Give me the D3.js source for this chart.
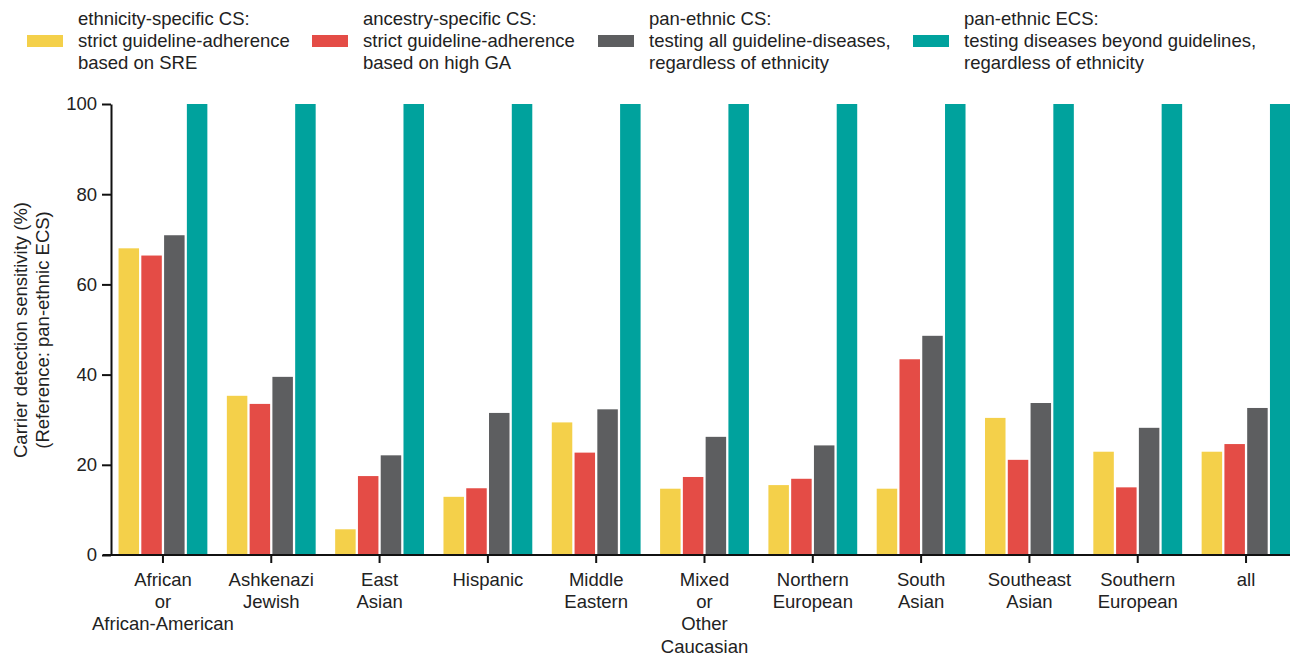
<!DOCTYPE html>
<html><head><meta charset="utf-8">
<script src="https://cdn.jsdelivr.net/npm/d3@7"></script>
<style>
html,body{margin:0;padding:0;background:#fff;}
svg{display:block;font-family:"Liberation Sans",Arial,Helvetica,sans-serif;}
</style></head>
<body>
<svg id="chart" width="1290" height="657"></svg>
<script>
const categories = [
  ["African","or","African-American"],
  ["Ashkenazi","Jewish"],
  ["East","Asian"],
  ["Hispanic"],
  ["Middle","Eastern"],
  ["Mixed","or","Other","Caucasian"],
  ["Northern","European"],
  ["South","Asian"],
  ["Southeast","Asian"],
  ["Southern","European"],
  ["all"]
];
const seriesNames = ["ethnicitySRE","ancestryGA","panethnicCS","panethnicECS"];
const seriesLabels = [
  ["ethnicity-specific CS:","strict guideline-adherence","based on SRE"],
  ["ancestry-specific CS:","strict guideline-adherence","based on high GA"],
  ["pan-ethnic CS:","testing all guideline-diseases,","regardless of ethnicity"],
  ["pan-ethnic ECS:","testing diseases beyond guidelines,","regardless of ethnicity"]
];
const colors = ["#F4D04A","#E44C46","#5D5E60","#00A29D"];
const ethnicitySRE = [68, 35.3, 5.7, 12.9, 29.4, 14.7, 15.5, 14.7, 30.4, 22.9, 22.9];
const ancestryGA   = [66.4, 33.5, 17.5, 14.8, 22.7, 17.3, 16.9, 43.4, 21.1, 15.0, 24.6];
const panethnicCS  = [70.9, 39.5, 22.1, 31.5, 32.3, 26.2, 24.3, 48.6, 33.7, 28.2, 32.6];
const panethnicECS = [100, 100, 100, 100, 100, 100, 100, 100, 100, 100, 100];
const yTicks = [0, 20, 40, 60, 80, 100];
const yTitle = ["Carrier detection sensitivity (%)", "(Reference: pan-ethnic ECS)"];

const FS = 18.5;
const values = [ethnicitySRE, ancestryGA, panethnicCS, panethnicECS];
const svg = d3.select("#chart");
const catKeys = categories.map(c => c.join(" "));

const x0 = d3.scaleBand().domain(catKeys).range([108.8, 1300.2]).paddingInner(0.18).paddingOuter(0.09);
const x1 = d3.scaleBand().domain(seriesNames).range([0, x0.bandwidth()]).paddingInner(0.1).paddingOuter(0);
const y = d3.scaleLinear().domain([0, 100]).range([555, 104]);

// bars
const groups = svg.append("g").selectAll("g").data(catKeys).join("g")
  .attr("transform", d => `translate(${x0(d)},0)`);
groups.selectAll("rect").data((d, i) => seriesNames.map((s, j) => ({s, v: values[j][i], c: colors[j]})))
  .join("rect")
  .attr("x", d => x1(d.s))
  .attr("width", x1.bandwidth())
  .attr("y", d => y(d.v))
  .attr("height", d => y(0) - y(d.v))
  .attr("fill", d => d.c);

// y axis
const yAxis = svg.append("g").attr("transform", "translate(111,0)")
  .call(d3.axisLeft(y).tickValues(yTicks).tickSize(9).tickPadding(5).tickSizeOuter(0));
yAxis.select(".domain").attr("stroke", "#111").attr("stroke-width", 2);
yAxis.selectAll(".tick line").attr("stroke", "#111").attr("stroke-width", 2);
yAxis.selectAll(".tick text").attr("font-size", FS).attr("fill", "#222").attr("font-family", "Liberation Sans, Arial, sans-serif");

// x axis
const xAxis = svg.append("g").attr("transform", "translate(0,555)")
  .call(d3.axisBottom(x0).tickSize(8).tickSizeOuter(0).tickFormat(""));
xAxis.select(".domain").remove();
svg.append("line").attr("x1", 103).attr("x2", 1290).attr("y1", 555).attr("y2", 555)
  .attr("stroke", "#111").attr("stroke-width", 2);
xAxis.selectAll(".tick line").attr("stroke", "#111").attr("stroke-width", 2);
xAxis.selectAll(".tick").each(function(d, i) {
  const t = d3.select(this).append("text").attr("text-anchor", "middle")
    .attr("font-size", FS).attr("fill", "#222");
  categories[i].forEach((line, k) => {
    t.append("tspan").attr("x", 0).attr("y", 31 + k * 22.2).text(line);
  });
});

// y title
const yt = svg.append("text").attr("transform", "translate(27,330) rotate(-90)")
  .attr("text-anchor", "middle").attr("font-size", FS).attr("fill", "#222");
yTitle.forEach((line, k) => yt.append("tspan").attr("x", 0).attr("y", k * 21.5).text(line));

// legend
const legX = [27, 312, 598, 913];
seriesNames.forEach((s, j) => {
  const g = svg.append("g").attr("transform", `translate(${legX[j]},0)`);
  g.append("rect").attr("x", 0).attr("y", 35).attr("width", 36).attr("height", 12).attr("fill", colors[j]);
  const t = g.append("text").attr("font-size", FS).attr("fill", "#222");
  seriesLabels[j].forEach((line, k) => t.append("tspan").attr("x", 51).attr("y", 24.5 + k * 22).text(line));
});
</script>
</body></html>
